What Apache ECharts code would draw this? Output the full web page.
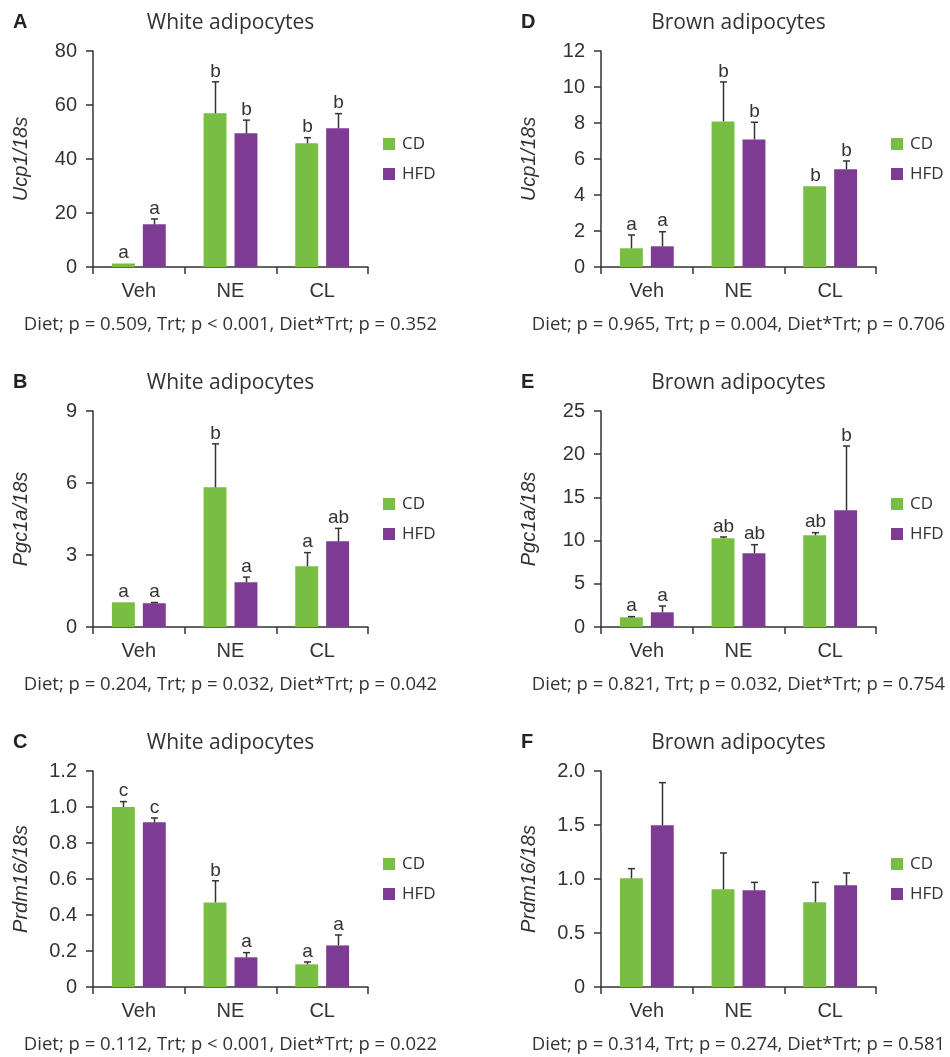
<!DOCTYPE html>
<html><head><meta charset="utf-8">
<script src="https://cdn.jsdelivr.net/npm/echarts@6/dist/echarts.min.js"></script>
<style>html,body{margin:0;padding:0;background:#fff}#c{width:950px;height:1057px}</style>
</head><body><div id="c"></div>
<script>
// ---------- data ----------
const categories = ['Veh', 'NE', 'CL'];
const groups = ['CD', 'HFD'];

// A: Ucp1, white adipocytes
const ucp1WhiteCD = [1.3, 56.9, 45.8];
const ucp1WhiteCDSem = [0, 11.7, 2.1];
const ucp1WhiteHFD = [15.8, 49.5, 51.4];
const ucp1WhiteHFDSem = [2.0, 4.9, 5.4];
const ucp1WhiteLettersCD = ['a', 'b', 'b'];
const ucp1WhiteLettersHFD = ['a', 'b', 'b'];

// B: Pgc1a, white adipocytes
const pgc1aWhiteCD = [1.03, 5.82, 2.53];
const pgc1aWhiteCDSem = [0, 1.81, 0.57];
const pgc1aWhiteHFD = [0.99, 1.86, 3.57];
const pgc1aWhiteHFDSem = [0.03, 0.22, 0.54];
const pgc1aWhiteLettersCD = ['a', 'b', 'a'];
const pgc1aWhiteLettersHFD = ['a', 'a', 'ab'];

// C: Prdm16, white adipocytes
const prdm16WhiteCD = [1.0, 0.47, 0.126];
const prdm16WhiteCDSem = [0.03, 0.12, 0.013];
const prdm16WhiteHFD = [0.915, 0.165, 0.231];
const prdm16WhiteHFDSem = [0.024, 0.026, 0.058];
const prdm16WhiteLettersCD = ['c', 'b', 'a'];
const prdm16WhiteLettersHFD = ['c', 'a', 'a'];

// D: Ucp1, brown adipocytes
const ucp1BrownCD = [1.04, 8.09, 4.48];
const ucp1BrownCDSem = [0.74, 2.19, 0];
const ucp1BrownHFD = [1.15, 7.09, 5.43];
const ucp1BrownHFDSem = [0.81, 0.95, 0.46];
const ucp1BrownLettersCD = ['a', 'b', 'b'];
const ucp1BrownLettersHFD = ['a', 'b', 'b'];

// E: Pgc1a, brown adipocytes
const pgc1aBrownCD = [1.12, 10.26, 10.61];
const pgc1aBrownCDSem = [0.08, 0.16, 0.31];
const pgc1aBrownHFD = [1.70, 8.53, 13.5];
const pgc1aBrownHFDSem = [0.73, 1.0, 7.45];
const pgc1aBrownLettersCD = ['a', 'ab', 'ab'];
const pgc1aBrownLettersHFD = ['a', 'ab', 'b'];

// F: Prdm16, brown adipocytes
const prdm16BrownCD = [1.006, 0.904, 0.784];
const prdm16BrownCDSem = [0.09, 0.337, 0.185];
const prdm16BrownHFD = [1.497, 0.895, 0.941];
const prdm16BrownHFDSem = [0.395, 0.074, 0.115];
const prdm16BrownLettersCD = ['', '', ''];
const prdm16BrownLettersHFD = ['', '', ''];

// axis ranges
const yMaxes = [80, 9, 1.2, 12, 25, 2.0];
const yIntervals = [20, 3, 0.2, 2, 5, 0.5];
const panelLetters = ['A', 'B', 'C', 'D', 'E', 'F'];
const cellTitles = ['White adipocytes', 'White adipocytes', 'White adipocytes',
  'Brown adipocytes', 'Brown adipocytes', 'Brown adipocytes'];
const yNames = ['Ucp1/18s', 'Pgc1a/18s', 'Prdm16/18s', 'Ucp1/18s', 'Pgc1a/18s', 'Prdm16/18s'];
const statTexts = [
  'Diet; p = 0.509, Trt; p < 0.001, Diet*Trt; p = 0.352',
  'Diet; p = 0.204, Trt; p = 0.032, Diet*Trt; p = 0.042',
  'Diet; p = 0.112, Trt; p < 0.001, Diet*Trt; p = 0.022',
  'Diet; p = 0.965, Trt; p = 0.004, Diet*Trt; p = 0.706',
  'Diet; p = 0.821, Trt; p = 0.032, Diet*Trt; p = 0.754',
  'Diet; p = 0.314, Trt; p = 0.274, Diet*Trt; p = 0.581'
];

const panels = [
  [ucp1WhiteCD, ucp1WhiteCDSem, ucp1WhiteHFD, ucp1WhiteHFDSem, ucp1WhiteLettersCD, ucp1WhiteLettersHFD],
  [pgc1aWhiteCD, pgc1aWhiteCDSem, pgc1aWhiteHFD, pgc1aWhiteHFDSem, pgc1aWhiteLettersCD, pgc1aWhiteLettersHFD],
  [prdm16WhiteCD, prdm16WhiteCDSem, prdm16WhiteHFD, prdm16WhiteHFDSem, prdm16WhiteLettersCD, prdm16WhiteLettersHFD],
  [ucp1BrownCD, ucp1BrownCDSem, ucp1BrownHFD, ucp1BrownHFDSem, ucp1BrownLettersCD, ucp1BrownLettersHFD],
  [pgc1aBrownCD, pgc1aBrownCDSem, pgc1aBrownHFD, pgc1aBrownHFDSem, pgc1aBrownLettersCD, pgc1aBrownLettersHFD],
  [prdm16BrownCD, prdm16BrownCDSem, prdm16BrownHFD, prdm16BrownHFDSem, prdm16BrownLettersCD, prdm16BrownLettersHFD]
];

// ---------- layout / style ----------
const COLORS = ['#78be43', '#7e3b93'];
const INK = '#333';
const GRAPH_FONT = '"Liberation Sans", Arial, sans-serif';
const TEXT_FONT = '"Open Sans", "Noto Sans", sans-serif';
const colLeft = [93, 601];
const rowTop = [51, 411, 771];
const rowOffset = [0, 360, 720];
const letterX = [13, 521];
const PLOT_W = 275, PLOT_H = 216;
const BAR_FRAC = 0.25, GAP_FRAC = 0.35;

const grid = [], xAxis = [], yAxis = [], series = [], legend = [], graphic = [];

panels.forEach((p, k) => {
  const col = k < 3 ? 0 : 1;
  const row = k % 3;
  const left = colLeft[col], top = rowTop[row];
  grid.push({ left: left, top: top, width: PLOT_W, height: PLOT_H });
  xAxis.push({
    type: 'category', gridIndex: k, data: categories,
    axisLine: { lineStyle: { color: INK, width: 1.5 } },
    axisTick: { show: true, length: 7, alignWithLabel: false, lineStyle: { color: INK, width: 1.5 } },
    axisLabel: { color: INK, fontSize: 20, fontFamily: GRAPH_FONT, margin: 14 },
    splitLine: { show: false }
  });
  const iv = yIntervals[k];
  const oneDec = k === 2 || k === 5;
  yAxis.push({
    type: 'value', gridIndex: k, min: 0, max: yMaxes[k], interval: iv,
    name: yNames[k], nameLocation: 'middle', nameGap: 62,
    nameTextStyle: { color: INK, fontSize: 20, fontStyle: 'italic', fontFamily: GRAPH_FONT },
    axisLine: { show: true, lineStyle: { color: INK, width: 1.5 } },
    axisTick: { show: true, length: 7, lineStyle: { color: INK, width: 1.5 } },
    axisLabel: {
      color: INK, fontSize: 20, fontFamily: GRAPH_FONT, margin: 16,
      formatter: v => (v === 0 ? '0' : (oneDec ? v.toFixed(1) : String(v)))
    },
    splitLine: { show: false }
  });
  const means = [p[0], p[2]], sems = [p[1], p[3]], letters = [p[4], p[5]];
  groups.forEach((g, gi) => {
    series.push({
      name: g, type: 'bar', xAxisIndex: k, yAxisIndex: k,
      data: means[gi], barWidth: (BAR_FRAC * 100) + '%', barGap: (GAP_FRAC * 100) + '%',
      itemStyle: { color: COLORS[gi] }, emphasis: { disabled: true }, silent: true
    });
  });
  groups.forEach((g, gi) => {
    const m = means[gi], s = sems[gi], L = letters[gi];
    series.push({
      type: 'custom', xAxisIndex: k, yAxisIndex: k, z: 5, silent: true,
      data: categories.map((c, i) => [i, m[i] + s[i]]),
      renderItem: (params, api) => {
        const i = params.dataIndex;
        const base = api.coord([i, m[i]]);
        const band = api.size([1, 0])[0];
        const bw = band * BAR_FRAC;
        const off = (bw + bw * GAP_FRAC) / 2 * (gi === 0 ? -1 : 1);
        const x = Math.round(base[0] + off) + 0.5;
        const yMean = base[1];
        let yTop = yMean;
        const children = [];
        if (s[i] > 0) {
          yTop = api.coord([i, m[i] + s[i]])[1];
          children.push({ type: 'line', shape: { x1: x, y1: yMean, x2: x, y2: yTop }, style: { stroke: INK, lineWidth: 1.5 } });
          children.push({ type: 'line', shape: { x1: x - 3.5, y1: yTop, x2: x + 3.5, y2: yTop }, style: { stroke: INK, lineWidth: 1.5 } });
        }
        if (L[i]) {
          children.push({ type: 'text', x: x, y: yTop - 1,
            style: { text: L[i], textAlign: 'center', textVerticalAlign: 'bottom', fontSize: 19, fontFamily: GRAPH_FONT, fill: INK } });
        }
        return { type: 'group', children: children };
      }
    });
  });
  legend.push({
    data: groups, orient: 'vertical', left: left + 290, top: rowOffset[row] + 135, padding: 0,
    icon: 'rect', itemWidth: 12, itemHeight: 12, itemGap: 12, selectedMode: false,
    textStyle: { color: INK, fontSize: 17, fontFamily: TEXT_FONT, lineHeight: 18, padding: [0, 0, 0, 2] }
  });
  const cx = left + PLOT_W / 2;
  graphic.push({ type: 'text', x: letterX[col], y: rowOffset[row] + 22,
    style: { text: panelLetters[k], fontSize: 20, fontWeight: 'bold', fontFamily: '"Liberation Sans", Arial, sans-serif', fill: '#222', textVerticalAlign: 'middle' } });
  graphic.push({ type: 'text', x: cx, y: rowOffset[row] + 23,
    style: { text: cellTitles[k], fontSize: 21, fontFamily: TEXT_FONT, fill: INK, textAlign: 'center', textVerticalAlign: 'middle' } });
  graphic.push({ type: 'text', x: cx, y: rowOffset[row] + 325,
    style: { text: statTexts[k], fontSize: 18.5, fontFamily: TEXT_FONT, fill: INK, textAlign: 'center', textVerticalAlign: 'middle' } });
});

const chart = echarts.init(document.getElementById('c'));
chart.setOption({
  backgroundColor: '#fff', animation: false,
  grid, xAxis, yAxis, series, legend, graphic
});
</script></body></html>
